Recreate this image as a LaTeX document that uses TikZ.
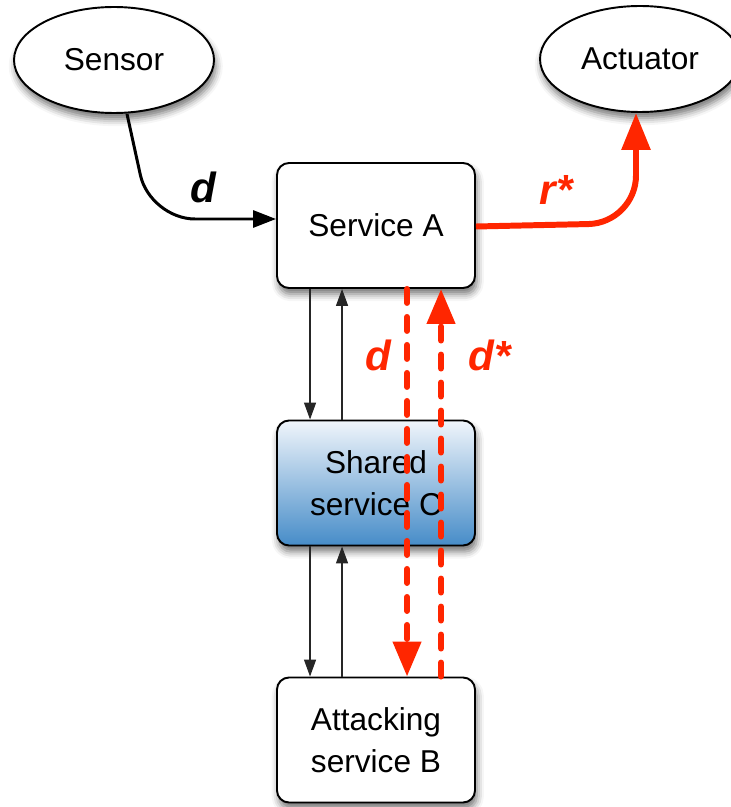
\documentclass[tikz,border=0pt]{standalone}
\usepackage{fontspec}
\setmainfont{Liberation Sans}
\usetikzlibrary{arrows.meta, calc, shapes.geometric, shadows.blur}
\definecolor{alarm}{RGB}{255,38,0}
\definecolor{sharedtop}{RGB}{240,245,251}
\definecolor{sharedbot}{RGB}{70,140,200}
\tikzset{
    soft/.style={blur shadow={shadow xshift=1pt, shadow yshift=-3.5pt, shadow blur radius=4pt, shadow opacity=55}},
    service/.style={draw, line width=1.1pt, rounded corners=0.24cm, fill=white, soft,
        minimum width=3.96cm, minimum height=2.5cm, align=center, font=\fontsize{18}{24}\selectfont},
    device/.style={ellipse, draw, line width=1.1pt, fill=white, soft,
        minimum width=4cm, minimum height=2.12cm, font=\fontsize{18}{24}\selectfont},
    call/.style={-{Triangle[length=0.34cm, width=0.24cm]}, line width=0.8pt, black!85},
    feed/.style={-{Triangle[length=0.46cm, width=0.34cm]}, line width=1.7pt},
    reply/.style={-{Triangle[length=0.74cm, width=0.56cm]}, line width=3.4pt, alarm},
    attack/.style={-{Triangle[length=0.7cm, width=0.55cm]}, line width=3.4pt, alarm,
        dash pattern=on 0.28cm off 0.28cm, line cap=round},
    tag/.style={font=\fontsize{24}{24}\selectfont\bfseries\itshape}
}
\begin{document}
\begin{tikzpicture}
    \useasboundingbox (0,0) rectangle (14.62,-16.14);
    % end devices
    \node[device] (Sensor) at (2.28,-1.2) {Sensor};
    \node[device] (Actuator) at (12.8,-1.18) {Actuator};
    % services
    \node[service] (A) at (7.52,-4.51) {Service A};
    \node[service, top color=sharedtop, bottom color=sharedbot] (C) at (7.52,-9.66) {Shared\\service C};
    \node[service] (B) at (7.52,-14.8) {Attacking\\service B};

    % normal calls between the services
    \foreach \upper/\lower in {A/C, C/B} {
        \draw[call] ([xshift=0.68cm]\upper.south west) -- ([xshift=0.68cm]\lower.north west);
        \draw[call] ([xshift=1.32cm]\lower.north west) -- ([xshift=1.32cm]\upper.south west);
    }

    % sensor data into A
    \coordinate (inbend) at (3.0,-4.38);
    \draw[feed, rounded corners=0.9cm] ([xshift=0.26cm]Sensor.south) -- (inbend) -- ([yshift=0.13cm]A.west);
    \node[tag] (dIn) at (4.06,-3.74) {d};

    % forged reply to the actuator
    \coordinate (outbend) at (12.72,-4.46);
    \draw[reply, rounded corners=0.95cm] ([yshift=-0.02cm]A.east) -- (outbend) -- ([xshift=-0.08cm]Actuator.south);
    \node[tag, alarm] (rOut) at (11.12,-3.8) {r*};

    % data leaked to B and tampered data sent back
    \draw[attack] ([xshift=2.62cm]A.south west) -- ([xshift=2.62cm]B.north west);
    \draw[attack] ([xshift=3.3cm]B.north west) -- ([xshift=3.3cm]A.south west);
    \node[tag, alarm] (dLeak) at (7.56,-7.1) {d};
    \node[tag, alarm] (dBack) at (9.8,-7.1) {d*};
\end{tikzpicture}
\end{document}
